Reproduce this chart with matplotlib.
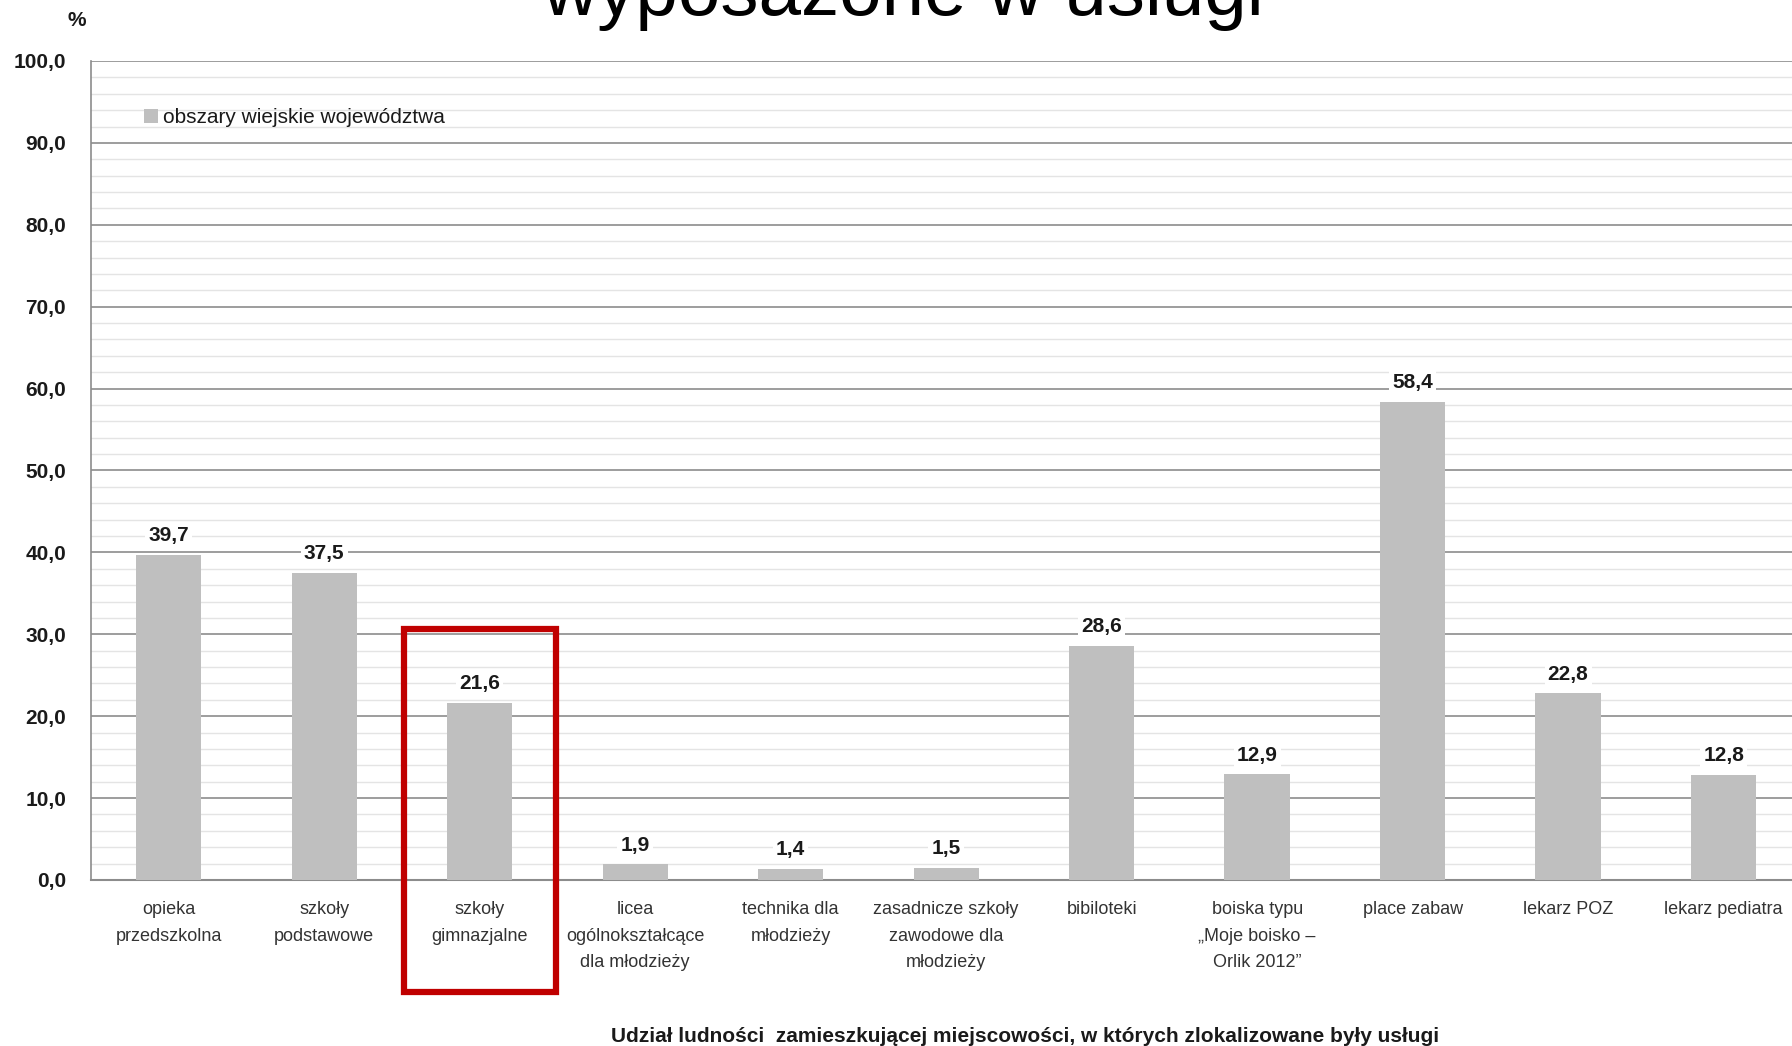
import matplotlib
matplotlib.use("Agg")
import matplotlib.pyplot as plt
from matplotlib.patches import Rectangle
from matplotlib.ticker import MultipleLocator, FuncFormatter

plt.rcParams['font.family'] = ['Liberation Sans', 'DejaVu Sans']

# dane
categories = [
    "opieka\nprzedszkolna",
    "szkoły\npodstawowe",
    "szkoły\ngimnazjalne",
    "licea\nogólnokształcące\ndla młodzieży",
    "technika dla\nmłodzieży",
    "zasadnicze szkoły\nzawodowe dla\nmłodzieży",
    "bibiloteki",
    "boiska typu\n„Moje boisko –\nOrlik 2012”",
    "place zabaw",
    "lekarz POZ",
    "lekarz pediatra",
]
values = [39.7, 37.5, 21.6, 1.9, 1.4, 1.5, 28.6, 12.9, 58.4, 22.8, 12.8]
series_name = "obszary wiejskie województwa"
highlight = 2  # szkoły gimnazjalne

fig = plt.figure(figsize=(17.92, 10.46), dpi=100)
ax = fig.add_axes([0.0508, 0.1587, 0.9492, 0.783])

x = list(range(len(values)))
bars = ax.bar(x, values, width=0.42, color="#bfbfbf", zorder=3, label=series_name)

for xi, v in zip(x, values):
    ax.annotate(f"{v:.1f}".replace(".", ","), (xi, v), xytext=(0, 7),
                textcoords="offset points", ha="center", va="bottom",
                fontsize=15, fontweight="bold", color="#1a1a1a", zorder=5,
                bbox=dict(boxstyle="square,pad=0.15", fc="white", ec="none"))

ax.set_xlim(-0.5, 10.44)
ax.set_ylim(0, 100)
ax.yaxis.set_major_locator(MultipleLocator(10))
ax.yaxis.set_minor_locator(MultipleLocator(2))
ax.yaxis.set_major_formatter(FuncFormatter(lambda v, p: f"{v:.1f}".replace(".", ",")))
ax.grid(axis="y", which="major", color="#8c8c8c", linewidth=1.2, zorder=1)
ax.grid(axis="y", which="minor", color="#e4e4e4", linewidth=1.0, zorder=1)
ax.set_axisbelow(True)

ax.set_xticks(x)
ax.set_xticklabels(categories, fontsize=13, color="#333333", linespacing=1.75)
ax.tick_params(axis="x", length=0, pad=15)
ax.tick_params(axis="y", which="both", length=0, pad=18, labelsize=15)
for lbl in ax.get_yticklabels():
    lbl.set_fontweight("bold")
    lbl.set_color("#1a1a1a")

for s in ["top", "right"]:
    ax.spines[s].set_visible(False)
ax.spines["left"].set_color("#8c8c8c")
ax.spines["bottom"].set_color("#8c8c8c")
ax.spines["left"].set_linewidth(1.2)
ax.spines["bottom"].set_linewidth(1.5)

leg = ax.legend(loc="upper left", bbox_to_anchor=(0.02, 0.965), frameon=False,
                fontsize=15, handlelength=0.7, handleheight=0.7, handletextpad=0.2)
for t in leg.get_texts():
    t.set_color("#1a1a1a")

# czerwona ramka wokół wyróżnionej kategorii
ax.add_patch(Rectangle((highlight - 0.49, -13.7), 0.98, 44.4, fill=False,
                       edgecolor="#c00000", linewidth=4.5, clip_on=False, zorder=6))

fig.text(0.043, 0.98, "%", fontsize=15, fontweight="bold", ha="center", va="center", color="#1a1a1a")
# tytuł jest przycięty u góry, tak jak w oryginale
fig.text(0.504, 0.986, "wyposażone w usługi", fontsize=55, ha="center", va="baseline")
fig.text(0.572, 0.0, "Udział ludności  zamieszkującej miejscowości, w których zlokalizowane były usługi",
         fontsize=15, fontweight="bold", ha="center", va="bottom", color="#1a1a1a")

fig.savefig("out.png", dpi=100)
